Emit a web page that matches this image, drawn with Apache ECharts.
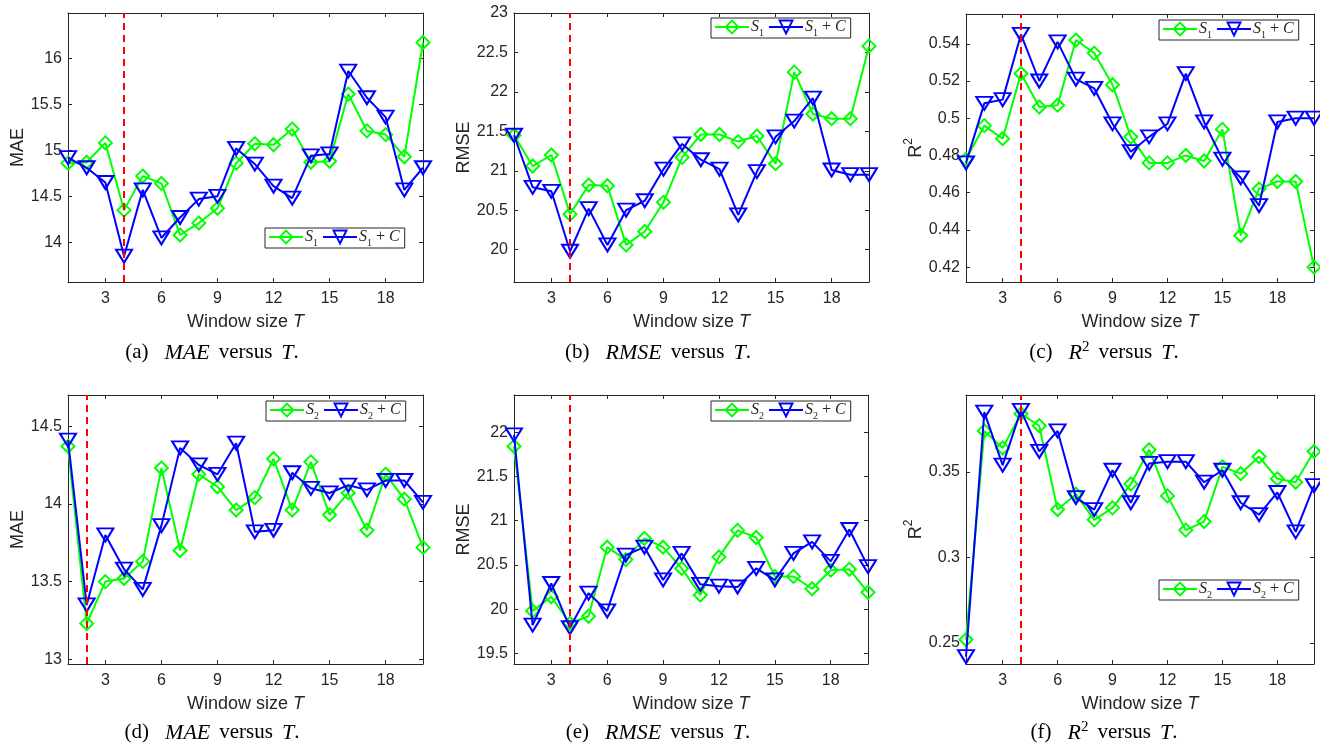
<!DOCTYPE html>
<html>
<head>
<meta charset="utf-8">
<script src="https://cdn.jsdelivr.net/npm/echarts@6/dist/echarts.min.js"></script>
<style>
  html, body { margin: 0; padding: 0; background: #fff; }
  #chart { width: 1320px; height: 746px; }
</style>
</head>
<body>
<div id="chart"></div>
<script>
// Window sizes on the x axis
const windowSizes = [1, 2, 3, 4, 5, 6, 7, 8, 9, 10, 11, 12, 13, 14, 15, 16, 17, 18, 19, 20];
const xTicks = [3, 6, 9, 12, 15, 18];

// Feature set S1 (top row)
const maeS1   = [14.86, 14.87, 15.08, 14.35, 14.72, 14.64, 14.08, 14.21, 14.37, 14.86, 15.07, 15.06, 15.23, 14.87, 14.88, 15.61, 15.21, 15.17, 14.93, 16.17];
const maeS1C  = [14.92, 14.81, 14.65, 13.85, 14.57, 14.05, 14.27, 14.47, 14.50, 15.02, 14.85, 14.61, 14.48, 14.94, 14.96, 15.86, 15.57, 15.36, 14.57, 14.81];
const rmseS1  = [21.45, 21.06, 21.20, 20.45, 20.82, 20.81, 20.06, 20.23, 20.60, 21.17, 21.46, 21.46, 21.37, 21.44, 21.09, 22.25, 21.72, 21.66, 21.66, 22.58];
const rmseS1C = [21.45, 20.79, 20.74, 19.98, 20.52, 20.06, 20.50, 20.62, 21.02, 21.34, 21.14, 21.02, 20.44, 20.99, 21.43, 21.63, 21.92, 21.01, 20.95, 20.95];
const r2S1    = [0.478, 0.496, 0.489, 0.524, 0.506, 0.507, 0.542, 0.535, 0.518, 0.490, 0.476, 0.476, 0.480, 0.477, 0.494, 0.437, 0.462, 0.466, 0.466, 0.420];
const r2S1C   = [0.476, 0.508, 0.510, 0.545, 0.520, 0.541, 0.521, 0.516, 0.497, 0.482, 0.490, 0.497, 0.524, 0.498, 0.478, 0.468, 0.453, 0.498, 0.500, 0.500];

// Feature set S2 (bottom row)
const maeS2   = [14.37, 13.23, 13.50, 13.52, 13.63, 14.23, 13.70, 14.19, 14.11, 13.96, 14.04, 14.29, 13.96, 14.27, 13.93, 14.07, 13.83, 14.19, 14.03, 13.72];
const maeS2C  = [14.41, 13.35, 13.80, 13.58, 13.45, 13.86, 14.36, 14.25, 14.19, 14.39, 13.82, 13.83, 14.20, 14.10, 14.07, 14.12, 14.09, 14.15, 14.15, 14.01];
const rmseS2  = [21.84, 19.98, 20.14, 19.84, 19.92, 20.70, 20.56, 20.80, 20.70, 20.46, 20.16, 20.59, 20.89, 20.81, 20.37, 20.37, 20.23, 20.44, 20.45, 20.19];
const rmseS2C = [21.97, 19.82, 20.29, 19.79, 20.18, 19.98, 20.61, 20.70, 20.33, 20.63, 20.28, 20.26, 20.25, 20.46, 20.33, 20.63, 20.76, 20.54, 20.90, 20.48];
const r2S2    = [0.252, 0.374, 0.364, 0.384, 0.377, 0.328, 0.337, 0.322, 0.329, 0.343, 0.363, 0.336, 0.316, 0.321, 0.353, 0.349, 0.359, 0.346, 0.344, 0.362];
const r2S2C   = [0.242, 0.385, 0.354, 0.386, 0.362, 0.374, 0.335, 0.328, 0.351, 0.332, 0.355, 0.356, 0.356, 0.344, 0.351, 0.332, 0.325, 0.338, 0.315, 0.342];

// Selected window size marked by the dashed line in each panel
const bestT = [4, 4, 4, 2, 4, 4];

// Y tick values per panel
const ticksMae1  = [14, 14.5, 15, 15.5, 16];
const ticksRmse1 = [20, 20.5, 21, 21.5, 22, 22.5, 23];
const ticksR21   = [0.42, 0.44, 0.46, 0.48, 0.5, 0.52, 0.54];
const ticksMae2  = [13, 13.5, 14, 14.5];
const ticksRmse2 = [19.5, 20, 20.5, 21, 21.5, 22];
const ticksR22   = [0.25, 0.3, 0.35];

const GREEN = '#00ff00';
const BLUE = '#0000ff';
const AXIS = '#262626';
const SANS = 'Liberation Sans, Arial, sans-serif';
const SERIF = 'Liberation Serif, Times New Roman, serif';

const panels = [
  { grid: { left: 68, top: 13, width: 355, height: 269 }, yName: 'MAE', yMin: 13.57, yMax: 16.49, yTicks: ticksMae1,
    a: maeS1, b: maeS1C, best: bestT[0], names: ['S1', 'S1+C'], legend: { left: 265, top: 228 },
    tag: '(a)', metric: '{i|MAE}', cx: 212, cy: 352 },
  { grid: { left: 514, top: 13, width: 355, height: 269 }, yName: 'RMSE', yMin: 19.59, yMax: 23, yTicks: ticksRmse1,
    a: rmseS1, b: rmseS1C, best: bestT[1], names: ['S1', 'S1+C'], legend: { left: 711, top: 18 },
    tag: '(b)', metric: '{i|RMSE}', cx: 658, cy: 352 },
  { grid: { left: 966, top: 14, width: 348, height: 268 }, yName: 'R2', yMin: 0.412, yMax: 0.556, yTicks: ticksR21,
    a: r2S1, b: r2S1C, best: bestT[2], names: ['S1', 'S1+C'], legend: { left: 1159, top: 20 },
    tag: '(c)', metric: '{i|R}{sup|2}', cx: 1104, cy: 352 },
  { grid: { left: 68, top: 395, width: 355, height: 269 }, yName: 'MAE', yMin: 12.97, yMax: 14.70, yTicks: ticksMae2,
    a: maeS2, b: maeS2C, best: bestT[3], names: ['S2', 'S2+C'], legend: { left: 266, top: 401 },
    tag: '(d)', metric: '{i|MAE}', cx: 212, cy: 732 },
  { grid: { left: 514, top: 395, width: 354, height: 269 }, yName: 'RMSE', yMin: 19.38, yMax: 22.42, yTicks: ticksRmse2,
    a: rmseS2, b: rmseS2C, best: bestT[4], names: ['S2', 'S2+C'], legend: { left: 711, top: 401 },
    tag: '(e)', metric: '{i|RMSE}', cx: 658, cy: 732 },
  { grid: { left: 966, top: 395, width: 348, height: 269 }, yName: 'R2', yMin: 0.2377, yMax: 0.395, yTicks: ticksR22,
    a: r2S2, b: r2S2C, best: bestT[5], names: ['S2', 'S2+C'], legend: { left: 1159, top: 580 },
    tag: '(f)', metric: '{i|R}{sup|2}', cx: 1104, cy: 732 }
];

const fmt = v => String(parseFloat(v.toFixed(3)));

const grids = [], xAxes = [], yAxes = [], series = [], legends = [], graphics = [];

panels.forEach((p, k) => {
  grids.push(Object.assign({ containLabel: false }, p.grid));

  const tickCommon = { inside: true, length: 4, lineStyle: { color: AXIS, width: 1 } };
  const lineCommon = { show: true, onZero: false, lineStyle: { color: AXIS, width: 1 } };

  // bottom x axis with labels
  xAxes.push({
    gridIndex: k, type: 'value', min: 1, max: 20, position: 'bottom',
    axisLine: lineCommon,
    axisTick: Object.assign({ customValues: xTicks }, tickCommon),
    axisLabel: { customValues: xTicks, color: AXIS, fontFamily: SANS, fontSize: 16, margin: 9, formatter: fmt },
    splitLine: { show: false },
    name: 'Window size {i|T}', nameLocation: 'middle', nameGap: 31,
    nameTextStyle: {
      color: AXIS, fontFamily: SANS, fontSize: 18,
      rich: { i: { fontStyle: 'italic', fontFamily: SANS, fontSize: 18, color: AXIS } }
    }
  });
  // top x axis: mirrored ticks only
  xAxes.push({
    gridIndex: k, type: 'value', min: 1, max: 20, position: 'top',
    axisLine: lineCommon,
    axisTick: Object.assign({ customValues: xTicks }, tickCommon),
    axisLabel: { show: false }, splitLine: { show: false }
  });

  const yNameText = p.yName === 'R2' ? '{r|R}{sup|2}' : p.yName;
  yAxes.push({
    gridIndex: k, type: 'value', min: p.yMin, max: p.yMax, position: 'left',
    axisLine: lineCommon,
    axisTick: Object.assign({ customValues: p.yTicks }, tickCommon),
    axisLabel: { customValues: p.yTicks, color: AXIS, fontFamily: SANS, fontSize: 16, margin: 6, formatter: fmt },
    splitLine: { show: false },
    name: yNameText, nameLocation: 'middle', nameGap: 40,
    nameTextStyle: {
      color: AXIS, fontFamily: SANS, fontSize: 18,
      rich: {
        r: { fontFamily: SANS, fontSize: 18, color: AXIS, lineHeight: 22, verticalAlign: 'bottom' },
        sup: { fontFamily: SANS, fontSize: 12, color: AXIS, lineHeight: 22, verticalAlign: 'top', padding: [0, 0, 10, 0] }
      }
    }
  });
  yAxes.push({
    gridIndex: k, type: 'value', min: p.yMin, max: p.yMax, position: 'right',
    axisLine: lineCommon,
    axisTick: Object.assign({ customValues: p.yTicks }, tickCommon),
    axisLabel: { show: false }, splitLine: { show: false }
  });

  series.push({
    name: p.names[0], type: 'line', xAxisIndex: 2 * k, yAxisIndex: 2 * k,
    data: windowSizes.map((t, i) => [t, p.a[i]]),
    symbol: 'diamond', symbolSize: 13,
    lineStyle: { color: GREEN, width: 2 },
    itemStyle: { color: 'rgba(255,255,255,0)', borderColor: GREEN, borderWidth: 2 },
    z: 2
  });
  series.push({
    name: p.names[1], type: 'line', xAxisIndex: 2 * k, yAxisIndex: 2 * k,
    data: windowSizes.map((t, i) => [t, p.b[i]]),
    symbol: 'triangle', symbolRotate: 180, symbolSize: [16, 13],
    lineStyle: { color: BLUE, width: 2 },
    itemStyle: { color: 'rgba(255,255,255,0)', borderColor: BLUE, borderWidth: 2 },
    z: 3,
    markLine: {
      silent: true, symbol: 'none', label: { show: false },
      lineStyle: { color: '#ff0000', type: [7, 5], width: 2 },
      data: [{ xAxis: p.best }]
    }
  });

  const sub = p.names[0].slice(1);
  legends.push({
    data: p.names, left: p.legend.left, top: p.legend.top, orient: 'horizontal',
    itemWidth: 34, itemHeight: 16, itemGap: 4, padding: [1, 5, 0, 3],
    backgroundColor: '#fff', borderColor: AXIS, borderWidth: 1, borderRadius: 0,
    selectedMode: false,
    formatter: name => name.indexOf('+C') > 0 ? '{i|S}{sub|' + sub + '}{t| + }{i|C}' : '{i|S}{sub|' + sub + '}',
    textStyle: {
      fontFamily: SERIF, fontSize: 15, color: AXIS, padding: [0, 0, 0, -3],
      rich: {
        i: { fontFamily: SERIF, fontStyle: 'italic', fontSize: 16, color: AXIS, lineHeight: 16, verticalAlign: 'middle' },
        sub: { fontFamily: SERIF, fontSize: 10, color: AXIS, lineHeight: 16, verticalAlign: 'bottom', padding: [0, 0, -3, 0] },
        t: { fontFamily: SERIF, fontSize: 16, color: AXIS, lineHeight: 16, verticalAlign: 'middle' }
      }
    }
  });

  // Caption below each panel, spaced like a LaTeX subfigure caption
  graphics.push({
    type: 'text', x: p.cx, y: p.cy,
    style: {
      text: p.tag + '{g1| }' + p.metric + '{g2| }versus{g2| }{i|T}.',
      align: 'center', verticalAlign: 'middle',
      fontFamily: SERIF, fontSize: 21, fill: '#000',
      rich: {
        i: { fontFamily: SERIF, fontStyle: 'italic', fontSize: 22, fill: '#000', lineHeight: 24, verticalAlign: 'bottom' },
        sup: { fontFamily: SERIF, fontSize: 15, fill: '#000', lineHeight: 24, verticalAlign: 'top', padding: [0, 0, 8, 0] },
        g1: { width: 16, fontSize: 21, lineHeight: 24 },
        g2: { width: 9, fontSize: 21, lineHeight: 24 }
      }
    }
  });
});

const chart = echarts.init(document.getElementById('chart'), null, { renderer: 'canvas' });
chart.setOption({
  backgroundColor: '#fff',
  animation: false,
  grid: grids,
  xAxis: xAxes,
  yAxis: yAxes,
  legend: legends,
  series: series,
  graphic: graphics
});
</script>
</body>
</html>
